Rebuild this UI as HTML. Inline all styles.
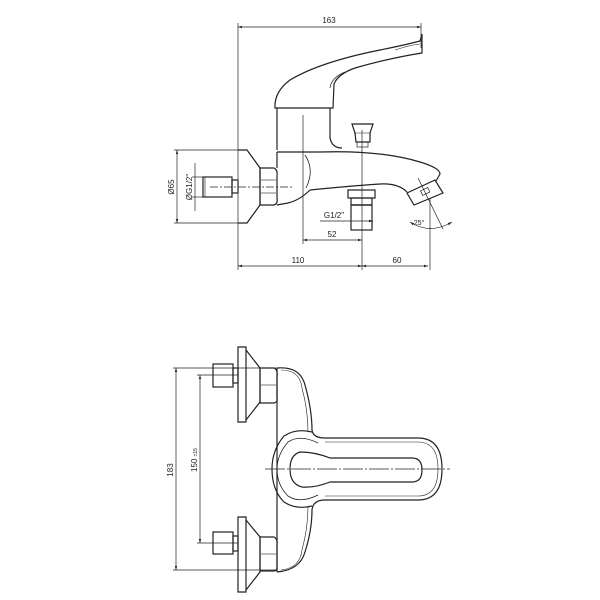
<!DOCTYPE html>
<html><head><meta charset="utf-8"><style>
html,body{margin:0;padding:0;background:#fff;}
svg{display:block;}
text{font-family:"Liberation Sans",sans-serif;font-size:8px;fill:#222;}
</style></head><body>
<svg width="600" height="600" viewBox="0 0 600 600" xmlns="http://www.w3.org/2000/svg">
<defs>
<marker id="a" viewBox="0 0 10 10" refX="10" refY="5" markerWidth="6" markerHeight="6" orient="auto-start-reverse"><path d="M0,2 L10,5 L0,8 z" fill="#222"/></marker>
</defs>
<g fill="none" stroke="#222" stroke-width="1.2">
<line x1="238" y1="27" x2="421" y2="27" stroke-width="0.7" marker-start="url(#a)" marker-end="url(#a)"/>
<line x1="238" y1="23" x2="238" y2="270" stroke-width="0.7"/>
<line x1="421" y1="23" x2="421" y2="48" stroke-width="0.7"/>
<path d="M238,150 L247,150 L260,168 L260,205 L247,223 L238,223"/>
<path d="M260,168 L274,168 Q278,170 277,176 L277,198 Q278,204 274,205 L260,205 Z"/>
<line x1="261" y1="180" x2="276" y2="180" stroke-width="0.6"/>
<line x1="261" y1="193" x2="276" y2="193" stroke-width="0.6"/>
<rect x="203" y="177" width="29" height="20"/>
<rect x="232" y="180" width="6" height="13"/>
<line x1="205" y1="177" x2="205" y2="197" stroke-width="0.6"/>
<line x1="177" y1="150" x2="177" y2="223" stroke-width="0.7" marker-start="url(#a)" marker-end="url(#a)"/>
<line x1="174" y1="150" x2="238" y2="150" stroke-width="0.7"/>
<line x1="174" y1="223" x2="238" y2="223" stroke-width="0.7"/>
<line x1="195" y1="163" x2="195" y2="211" stroke-width="0.7"/>
<line x1="192" y1="177" x2="203" y2="177" stroke-width="0.7"/>
<line x1="192" y1="197" x2="203" y2="197" stroke-width="0.7"/>
<line x1="210" y1="187" x2="292" y2="187" stroke-width="0.7" stroke-dasharray="8,2,2,2"/>
<path d="M275,108 Q274,92 290,80 Q320,62 380,50 Q405,45 420,41 L422,34 L422,53 Q390,58 355,68 Q338,74 334,84 L333,108 Z"/>
<path d="M330,88 Q331,78 345,72" stroke-width="0.7"/>
<path d="M395,50 Q410,45 420,44" stroke-width="0.6"/>
<path d="M277,108 L277,150 M330,108 L330,138 Q332,148 342,148"/>
<path d="M277,152 L320,152 Q380,150 420,162 Q440,168 440,174 L436,181"/>
<path d="M277,152 L277,168"/>
<path d="M310,190 Q350,186 380,184 Q398,183 407,192"/>
<path d="M310,190 Q300,200 288,203 L277,205"/>
<path d="M305,155 Q315,170 306,188" stroke-width="0.8"/>
<path d="M407,193 L435,180 L443,193 L414,205 Z"/>
<rect x="421" y="189" width="8" height="5" transform="rotate(-25 425 191)" stroke-width="0.7"/>
<path d="M352,124 L373,124 L370,133 L370,142 L356,142 L355,133 Z"/>
<line x1="354" y1="133" x2="371" y2="133" stroke-width="0.6"/>
<rect x="357" y="142" width="11" height="5" stroke-width="0.7"/>
<rect x="348" y="190" width="27" height="8"/>
<rect x="351" y="198" width="21" height="32"/>
<line x1="351" y1="205" x2="372" y2="205" stroke-width="1.6"/>
<line x1="320" y1="221" x2="373" y2="221" stroke-width="0.7" marker-end="url(#a)"/>
<line x1="303" y1="115" x2="303" y2="244" stroke-width="0.7"/>
<line x1="362" y1="130" x2="362" y2="270" stroke-width="0.7"/>
<line x1="303" y1="240" x2="362" y2="240" stroke-width="0.7" marker-start="url(#a)" marker-end="url(#a)"/>
<line x1="238" y1="266" x2="362" y2="266" stroke-width="0.7" marker-start="url(#a)" marker-end="url(#a)"/>
<line x1="362" y1="266" x2="428" y2="266" stroke-width="0.7" marker-start="url(#a)" marker-end="url(#a)"/>
<line x1="430" y1="198" x2="430" y2="270" stroke-width="0.7"/>
<line x1="418" y1="178" x2="443" y2="229" stroke-width="0.7"/>
<path d="M410,222 Q430,235 452,222" stroke-width="0.7" marker-start="url(#a)" marker-end="url(#a)"/>

<path d="M238,347 L246,347 L246,422 L238,422 Z"/>
<path d="M246,350 L260,368 L260,402 L246,420"/>
<rect x="213" y="364" width="20" height="23"/>
<rect x="233" y="368" width="5" height="15"/>
<path d="M260,368 L274,368 Q278,370 277,376 L277,398 Q278,402 274,403 L260,403 Z"/>
<line x1="261" y1="385" x2="276" y2="385" stroke-width="0.6"/>
<path d="M238,517 L246,517 L246,592 L238,592 Z"/>
<path d="M246,520 L260,537 L260,572 L246,590"/>
<rect x="213" y="532" width="20" height="22"/>
<rect x="233" y="536" width="5" height="15"/>
<path d="M260,537 L274,537 Q278,539 277,545 L277,566 Q278,570 274,571 L260,571 Z"/>
<line x1="261" y1="554" x2="276" y2="554" stroke-width="0.6"/>
<line x1="277" y1="368" x2="277" y2="572"/>
<path d="M277,368 Q300,366 305,385 Q312,410 312,430 Q313,438 325,438 L418,438 Q442,438 442,469 Q442,500 418,500 L325,500 Q313,500 312,510 Q312,530 305,552 Q300,570 277,572"/>
<path d="M281,370 Q300,370 302,388 Q308,410 308,432" stroke-width="0.6"/>
<path d="M281,570 Q300,568 302,550 Q308,528 308,506" stroke-width="0.6"/>
<path d="M325,442 L418,442 Q438,442 438,469 Q438,496 418,496 L325,496" stroke-width="0.6"/>
<path d="M312,432 Q296,428 284,436 Q272,450 272,469 Q272,490 284,502 Q296,510 312,506"/>
<path d="M318,443 Q300,434 288,442 Q277,455 277,469 Q277,485 288,496 Q300,504 318,495" stroke-width="0.8"/>
<path d="M300,452 Q290,455 290,469 Q290,484 302,487 Q315,488 330,482 L412,482 Q422,482 422,470 Q422,458 412,458 L330,458 Q315,452 300,452 Z"/>
<line x1="265" y1="469" x2="450" y2="469" stroke-width="0.7" stroke-dasharray="20,2,2,2"/>
<line x1="176" y1="368" x2="176" y2="570" stroke-width="0.7" marker-start="url(#a)" marker-end="url(#a)"/>
<line x1="173" y1="368" x2="277" y2="368" stroke-width="0.7"/>
<line x1="173" y1="570" x2="277" y2="570" stroke-width="0.7"/>
<line x1="200" y1="375" x2="200" y2="543" stroke-width="0.7" marker-start="url(#a)" marker-end="url(#a)"/>
<line x1="197" y1="375" x2="238" y2="375" stroke-width="0.7"/>
<line x1="197" y1="543" x2="238" y2="543" stroke-width="0.7"/>
</g>
<text x="329" y="23" text-anchor="middle">163</text>
<text x="174" y="187" text-anchor="middle" transform="rotate(-90 174 187)">Ø65</text>
<text x="192" y="187" text-anchor="middle" transform="rotate(-90 192 187)">ØG1/2"</text>
<text x="334" y="218" text-anchor="middle">G1/2"</text>
<text x="332" y="237" text-anchor="middle">52</text>
<text x="298" y="263" text-anchor="middle">110</text>
<text x="397" y="263" text-anchor="middle">60</text>
<text x="419" y="225" text-anchor="middle" style="font-size:7px">25°</text>
<text x="173" y="470" text-anchor="middle" transform="rotate(-90 173 470)">183</text>
<text x="197" y="460" text-anchor="middle" transform="rotate(-90 197 460)">150 <tspan style="font-size:5px">±15</tspan></text>
</svg>
</body></html>
